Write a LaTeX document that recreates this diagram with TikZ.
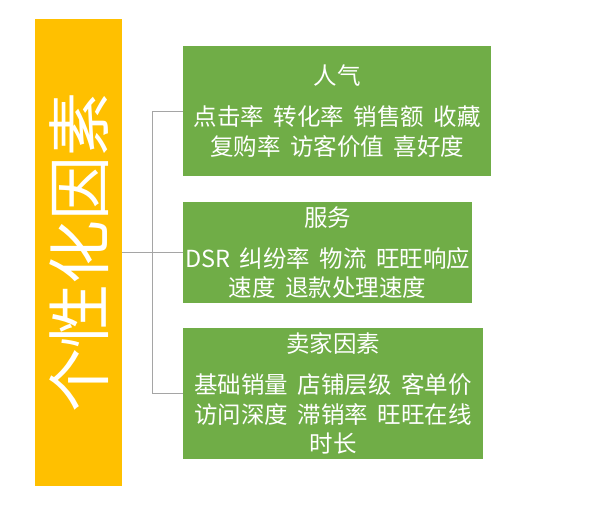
\documentclass[tikz,border=0pt]{standalone}
\usepackage{fontspec}
\setmainfont{Noto Sans CJK SC}[WordSpace=1.8]
\usetikzlibrary{positioning}
\definecolor{factorfill}{HTML}{FFC000}
\definecolor{groupfill}{HTML}{70AD47}
\definecolor{linkgray}{HTML}{A5A5A5}
\begin{document}
\begin{tikzpicture}[x=1pt, y=-1pt,
        factor/.style={fill=factorfill, text=white, inner sep=0pt, anchor=north west},
        group/.style={fill=groupfill, text=white, inner sep=0pt, anchor=north west, align=center,
            font=\fontsize{23.5}{29.5}\selectfont},
        link/.style={draw=linkgray, line width=0.8pt}]
    \useasboundingbox (0,0) rectangle (600,517);

    \node[factor, minimum width=87pt, minimum height=467pt] (root) at (35,19)
        {\rotatebox{90}{\fontsize{64}{64}\selectfont 个性化因素}};

    \node[group, minimum width=308pt, minimum height=130pt] (renqi) at (183,46)
        {人气\\[11.5pt] 点击率 转化率 销售额 收藏\\ 复购率 访客价值 喜好度};
    \node[group, minimum width=289pt, minimum height=101pt] (fuwu) at (183,202)
        {服务\\[11.5pt] DSR 纠纷率 物流 旺旺响应\\ 速度 退款处理速度};
    \node[group, minimum width=300pt, minimum height=131pt] (maijia) at (183,328)
        {卖家因素\\[11.5pt] 基础销量 店铺层级 客单价\\ 访问深度 滞销率 旺旺在线\\ 时长};

    % trunk of the bracket
    \coordinate (trunk) at (152,0);
    \draw[link] (root.east) -- (fuwu.west);
    \draw[link] (renqi.west) -- (renqi.west -| trunk) -- (maijia.west -| trunk) -- (maijia.west);
\end{tikzpicture}
\end{document}
